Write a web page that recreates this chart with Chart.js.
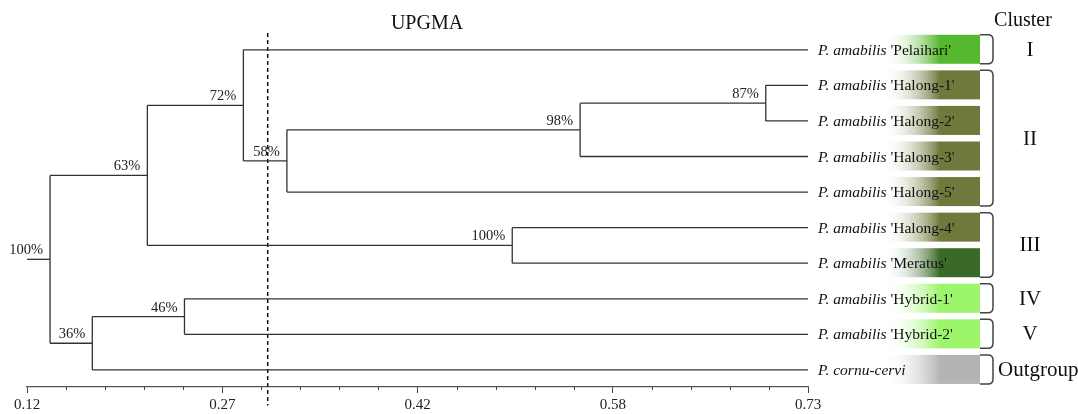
<!DOCTYPE html>
<html>
<head>
<meta charset="utf-8">
<script src="https://cdn.jsdelivr.net/npm/chart.js@4.4.1/dist/chart.umd.min.js"></script>
<style>
  html, body { margin: 0; padding: 0; background: #fff; }
  #wrap { width: 1078px; height: 414px; }
</style>
</head>
<body>
<div id="wrap"><canvas id="tree" width="1078" height="414"></canvas></div>
<script>
// leaves, top to bottom
const leafGenus = ['P. amabilis', 'P. amabilis', 'P. amabilis', 'P. amabilis', 'P. amabilis',
                   'P. amabilis', 'P. amabilis', 'P. amabilis', 'P. amabilis', 'P. cornu-cervi'];
const leafCultivar = ["'Pelaihari'", "'Halong-1'", "'Halong-2'", "'Halong-3'", "'Halong-5'",
                      "'Halong-4'", "'Meratus'", "'Hybrid-1'", "'Hybrid-2'", ''];

// internal nodes, children first (L = leaf index)
const nodeNames   = ['n87', 'n98', 'n58', 'n72', 'n100', 'n63', 'n46', 'n36', 'root'];
const nodeHeights = [0.697, 0.552, 0.323, 0.289, 0.499, 0.214, 0.243, 0.171, 0.138];
const nodeSupport = [87, 98, 58, 72, 100, 63, 46, 36, 100];
const nodeChildA  = ['L1', 'n87', 'n98', 'L0', 'L5', 'n72', 'L7', 'n46', 'n63'];
const nodeChildB  = ['L2', 'L3', 'L4', 'n58', 'L6', 'n100', 'L8', 'L9', 'n36'];

const axisMin = 0.12, axisMax = 0.73;
const tickLabels = ['0.12', '0.27', '0.42', '0.58', '0.73'];
const cutoff = 0.308;

const clusterNames = ['I', 'II', 'III', 'IV', 'V', 'Outgroup'];
const clusterFirst = [0, 1, 5, 7, 8, 9];
const clusterLast  = [0, 4, 6, 7, 8, 9];
const leafColors = ['#55b82e', '#6e7a3c', '#6e7a3c', '#6e7a3c', '#6e7a3c',
                    '#6e7a3c', '#3a6a28', '#9cf56a', '#9cf56a', '#b4b4b4'];

const SERIF = '"Liberation Serif", "DejaVu Serif", serif';
const LINE = '#333';

// positions of every node
const posY = {}, posH = {};
leafGenus.forEach((_, i) => { posY['L' + i] = i; posH['L' + i] = axisMax; });
nodeNames.forEach((n, i) => {
  posH[n] = nodeHeights[i];
  posY[n] = (posY[nodeChildA[i]] + posY[nodeChildB[i]]) / 2;
});

// branch segments
const segs = [];
nodeNames.forEach((n, i) => {
  const a = nodeChildA[i], b = nodeChildB[i];
  segs.push([{ x: posH[n], y: posY[a] }, { x: posH[n], y: posY[b] }]);
  [a, b].forEach(c => segs.push([{ x: posH[n], y: posY[c] }, { x: posH[c], y: posY[c] }]));
});
segs.push([{ x: axisMin, y: posY.root }, { x: posH.root, y: posY.root }]);

const datasets = segs.map(s => ({
  data: s, showLine: true, borderColor: LINE, borderWidth: 1.3,
  pointRadius: 0, pointHoverRadius: 0, fill: false
}));
datasets.push({
  data: [{ x: cutoff, y: -0.47 }, { x: cutoff, y: 10.0 }],
  showLine: true, borderColor: '#111', borderWidth: 1.5, borderDash: [4, 3],
  pointRadius: 0, pointHoverRadius: 0, clip: false
});

const tickValues = [];
for (let k = 0; k <= 20; k++) tickValues.push(axisMin + k * (axisMax - axisMin) / 20);

const treeDecor = {
  id: 'treeDecor',
  afterDraw(chart) {
    const { ctx } = chart;
    const xs = chart.scales.x, ys = chart.scales.y;
    ctx.save();

    // minor ticks
    ctx.strokeStyle = '#444';
    ctx.lineWidth = 1;
    tickValues.forEach((v, k) => {
      if (k % 5 === 0) return;
      const px = Math.round(xs.getPixelForValue(v)) + 0.5;
      ctx.beginPath();
      ctx.moveTo(px, xs.top);
      ctx.lineTo(px, xs.top + 3);
      ctx.stroke();
    });

    // support values
    ctx.fillStyle = '#222';
    ctx.font = '14.5px ' + SERIF;
    ctx.textAlign = 'right';
    ctx.textBaseline = 'alphabetic';
    nodeNames.forEach((n, i) => {
      const px = xs.getPixelForValue(posH[n]);
      const py = ys.getPixelForValue(posY[n]);
      ctx.fillText(nodeSupport[i] + '%', px - 7, py - 5);
    });

    // colour boxes behind labels
    const bx0 = 883, bx1 = 980, bxFull = 940;
    leafGenus.forEach((_, i) => {
      const py = ys.getPixelForValue(i);
      const g = ctx.createLinearGradient(bx0, 0, bxFull, 0);
      g.addColorStop(0, 'rgba(255,255,255,0)');
      g.addColorStop(1, leafColors[i]);
      ctx.fillStyle = g;
      ctx.fillRect(bx0, py - 15, bx1 - bx0, 29);
    });

    // leaf labels
    ctx.textAlign = 'left';
    ctx.textBaseline = 'middle';
    ctx.fillStyle = '#111';
    leafGenus.forEach((gname, i) => {
      const py = ys.getPixelForValue(i) + 1;
      let px = xs.right + 10;
      ctx.font = 'italic 15.5px ' + SERIF;
      ctx.fillText(gname, px, py);
      px += ctx.measureText(gname + ' ').width;
      ctx.font = '15.5px ' + SERIF;
      ctx.fillText(leafCultivar[i], px, py);
    });

    // brackets and cluster names
    ctx.strokeStyle = '#444';
    ctx.lineWidth = 1.5;
    clusterNames.forEach((c, i) => {
      const top = ys.getPixelForValue(clusterFirst[i]) - 15;
      const bot = ys.getPixelForValue(clusterLast[i]) + 14;
      const x0 = 980, x1 = 993, r = 5;
      ctx.beginPath();
      ctx.moveTo(x0, top);
      ctx.lineTo(x1 - r, top);
      ctx.quadraticCurveTo(x1, top, x1, top + r);
      ctx.lineTo(x1, bot - r);
      ctx.quadraticCurveTo(x1, bot, x1 - r, bot);
      ctx.lineTo(x0, bot);
      ctx.stroke();
      ctx.fillStyle = '#111';
      ctx.font = '21px ' + SERIF;
      ctx.textAlign = 'center';
      const w = ctx.measureText(c).width;
      ctx.fillText(c, Math.max(1030, 998 + w / 2), (top + bot) / 2 + 1);
    });

    // headers
    ctx.font = '20px ' + SERIF;
    ctx.textAlign = 'center';
    ctx.fillText('Cluster', 1023, 21);
    ctx.fillText('UPGMA', 427, 24);
    ctx.restore();
  }
};

new Chart(document.getElementById('tree'), {
  type: 'scatter',
  data: { datasets },
  options: {
    responsive: false,
    animation: false,
    devicePixelRatio: 1,
    layout: { padding: { left: 27, right: 270, top: 32, bottom: -4 } },
    plugins: { legend: { display: false }, tooltip: { enabled: false } },
    scales: {
      x: {
        type: 'linear',
        position: 'bottom',
        min: axisMin,
        max: axisMax,
        afterBuildTicks: scale => { scale.ticks = tickValues.map(v => ({ value: v })); },
        grid: {
          drawOnChartArea: false,
          drawTicks: true,
          tickLength: 6,
          tickColor: ctx => (ctx.index % 5 === 0 ? '#444' : 'rgba(0,0,0,0)')
        },
        border: { display: true, color: '#555', width: 1.2 },
        ticks: {
          autoSkip: false,
          maxRotation: 0,
          padding: 5,
          color: '#222',
          font: { family: SERIF, size: 15, lineHeight: 1.0 },
          callback: (v, i) => (i % 5 === 0 ? tickLabels[i / 5] : '')
        }
      },
      y: {
        type: 'linear',
        display: false,
        reverse: true,
        min: -0.5,
        max: 9.48
      }
    }
  },
  plugins: [treeDecor]
});
</script>
</body>
</html>
